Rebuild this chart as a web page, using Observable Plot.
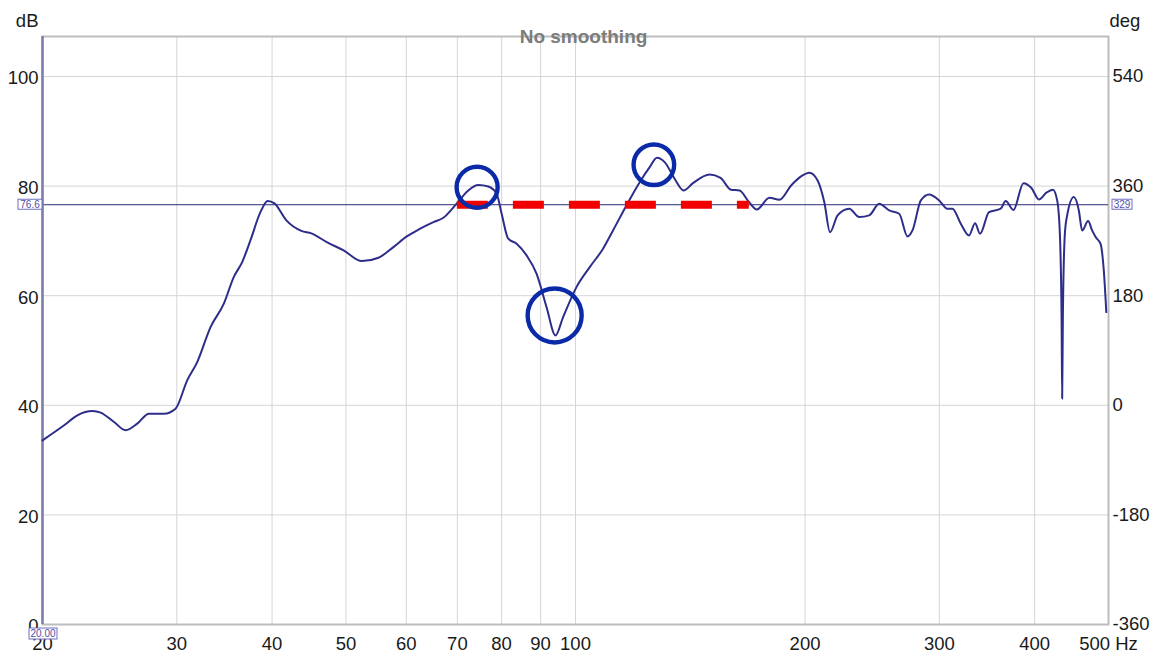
<!DOCTYPE html>
<html>
<head>
<meta charset="utf-8">
<script src="https://cdn.jsdelivr.net/npm/d3@7"></script>
<script src="https://cdn.jsdelivr.net/npm/@observablehq/plot@0.6"></script>
<style>
  html, body { margin: 0; padding: 0; background: #fff; }
</style>
</head>
<body>
<div id="chart"></div>
<script>
// ---- data ----
const freq = [20.0, 21.35, 22.22, 23.26, 23.84, 24.82, 25.71, 26.63, 27.58, 28.86, 29.89, 30.96, 31.91, 33.22, 34.58, 35.63, 36.55, 37.47, 38.62, 39.48, 40.29, 41.77, 43.70, 45.04, 47.26, 49.64, 52.47, 55.16, 57.71, 60.09, 62.55, 65.11, 67.10, 69.71, 72.35, 74.56, 76.84, 78.81, 80.01, 81.62, 83.71, 86.27, 88.90, 91.63, 94.14, 96.33, 100.29, 104.40, 108.67, 112.00, 116.62, 121.39, 125.11, 127.89, 130.90, 134.90, 138.61, 142.55, 149.91, 154.97, 159.96, 164.11, 168.63, 172.90, 179.64, 185.14, 191.78, 197.60, 202.60, 207.74, 211.98, 215.66, 220.66, 228.56, 235.56, 242.76, 250.20, 257.86, 265.76, 272.50, 276.64, 283.74, 290.92, 299.82, 307.42, 312.08, 320.08, 328.18, 334.18, 339.26, 348.58, 361.08, 366.56, 375.28, 386.76, 396.20, 405.24, 414.50, 422.70, 428.22, 431.70, 433.94, 434.72, 435.64, 438.28, 441.32, 450.32, 457.16, 461.74, 470.16, 475.86, 481.64, 488.06, 492.94, 496.68];
const db = [33.6, 36.35, 38.17, 38.96, 38.67, 36.95, 35.44, 36.66, 38.48, 38.48, 39.39, 44.56, 47.89, 54.28, 58.54, 63.40, 66.13, 70.09, 75.25, 77.29, 76.84, 73.74, 71.82, 71.37, 69.73, 68.27, 66.31, 66.93, 68.87, 70.82, 72.22, 73.43, 74.23, 76.66, 79.21, 80.21, 79.94, 78.61, 74.96, 70.40, 69.49, 67.35, 64.02, 57.92, 52.76, 56.10, 61.57, 65.22, 68.58, 71.91, 76.47, 80.72, 83.46, 85.17, 84.37, 81.34, 79.21, 80.54, 82.13, 81.49, 79.34, 79.21, 77.20, 75.74, 77.88, 77.51, 80.12, 81.76, 82.44, 81.03, 77.07, 71.60, 74.65, 75.87, 74.34, 74.65, 76.78, 75.56, 74.96, 70.82, 71.91, 77.39, 78.48, 77.39, 75.87, 75.87, 73.14, 71.00, 73.24, 71.31, 75.25, 75.87, 77.26, 75.65, 80.54, 79.66, 77.57, 78.81, 79.34, 77.39, 71.31, 56.10, 41.22, 56.10, 71.31, 74.65, 77.99, 75.56, 71.91, 73.61, 71.91, 70.58, 69.49, 64.62, 57.01];

const xTicks = [20, 30, 40, 50, 60, 70, 80, 90, 100, 200, 300, 400, 500];
const xTickLabels = ["20", "30", "40", "50", "60", "70", "80", "90", "100", "200", "300", "400", "500 Hz"];
const dbTicks = [0, 20, 40, 60, 80, 100];
const degLabels = ["-360", "-180", "0", "180", "360", "540"];

const refLevel = 76.6;
const refLevelLabel = "76.6";
const refDegLabel = "329";
const cursorFreq = 20;
const cursorLabel = "20.00";
const targetStart = 70;
const targetEnd = 169;

const circleFreq = [74.3, 93.9, 126.7];
const circleDb = [79.8, 56.4, 83.9];

const title = "No smoothing";

// ---- build ----
const curveData = freq.map((f, i) => ({f, db: db[i]}));
const xLabelMap = new Map(xTicks.map((t, i) => [t, xTickLabels[i]]));
const degMap = new Map(dbTicks.map((t, i) => [t, degLabels[i]]));

const FONT = "'Liberation Sans', Arial, Helvetica, sans-serif";

// boxed small label drawn at a data position (through scales)
function boxedLabel(label, xv, yv, {ox = 0, oy = 0, w = 24, h = 10}) {
  return (index, scales) => {
    const px = scales.x(xv) + ox;
    const py = scales.y(yv) + oy;
    const g = d3.create("svg:g");
    g.append("rect")
      .attr("x", px).attr("y", py).attr("width", w).attr("height", h)
      .attr("fill", "#fff").attr("stroke", "#6f6fc0").attr("stroke-width", 1);
    g.append("text")
      .attr("x", px + w / 2).attr("y", py + h / 2)
      .attr("dy", "0.35em")
      .attr("text-anchor", "middle")
      .attr("font-size", 10)
      .attr("font-family", FONT)
      .attr("fill", "#5050a8")
      .text(label);
    return g.node();
  };
}

const gridColor = "#d6d6d6";

const chart = Plot.plot({
  width: 1155,
  height: 652,
  marginLeft: 42,
  marginRight: 47,
  marginTop: 36,
  marginBottom: 28,
  style: {fontFamily: FONT, fontSize: "18.5px", color: "#1a1a1a", background: "#fff", overflow: "visible"},
  x: {type: "log", domain: [20, 500]},
  y: {domain: [0, 107.3]},
  marks: [
    Plot.gridX(xTicks.filter(t => t !== 20 && t !== 500), {stroke: gridColor, strokeOpacity: 1, strokeWidth: 1}),
    Plot.gridY(dbTicks.filter(t => t !== 0), {stroke: gridColor, strokeOpacity: 1, strokeWidth: 1}),
    Plot.frame({stroke: "#bdbdbd", strokeWidth: 2}),
    Plot.axisX(xTicks, {tickSize: 0, tickPadding: 12, tickFormat: d => xLabelMap.get(d), fontSize: 18.5, label: null}),
    Plot.axisY(dbTicks, {anchor: "left", tickSize: 0, tickPadding: 4, dy: 2, tickFormat: d => String(d), fontSize: 18.5, label: null}),
    Plot.axisY(dbTicks, {anchor: "right", tickSize: 0, tickPadding: 4, dy: 0, tickFormat: d => degMap.get(d), fontSize: 18.5, label: null}),
    Plot.text(["dB"], {frameAnchor: "top-left", lineAnchor: "middle", textAnchor: "end", dx: -4, dy: -15, fontSize: 18.5, fill: "#1a1a1a"}),
    Plot.text(["deg"], {frameAnchor: "top-right", lineAnchor: "middle", textAnchor: "start", dx: 1, dy: -15, fontSize: 18.5, fill: "#1a1a1a"}),
    Plot.ruleY([refLevel], {stroke: "#2a2a78", strokeWidth: 1}),
    Plot.ruleX([cursorFreq], {stroke: "#7d7db0", strokeWidth: 2.5}),
    Plot.line(curveData, {x: "f", y: "db", curve: "monotone-x", stroke: "#2e2e8a", strokeWidth: 2}),
    Plot.ruleY([refLevel], {x1: targetStart, x2: targetEnd, stroke: "#f20000", strokeWidth: 8, strokeDasharray: "31,25"}),
    Plot.dot([0], {x: circleFreq[0], y: circleDb[0], r: 20.5, stroke: "#0b2aa8", strokeWidth: 4.4, fill: "none"}),
    Plot.dot([0], {x: circleFreq[1], y: circleDb[1], r: 27, stroke: "#0b2aa8", strokeWidth: 4.4, fill: "none"}),
    Plot.dot([0], {x: circleFreq[2], y: circleDb[2], r: 20.3, stroke: "#0b2aa8", strokeWidth: 4.4, fill: "none"}),
    Plot.text([title], {frameAnchor: "top", lineAnchor: "middle", dx: 8, dy: 0, fontSize: 19, fontWeight: "bold", fill: "#7c7c7c"}),
    boxedLabel(refLevelLabel, cursorFreq, refLevel, {ox: -24, oy: -5, w: 24, h: 10}),
    boxedLabel(refDegLabel, 500, refLevel, {ox: 4, oy: -5, w: 20, h: 10}),
    boxedLabel(cursorLabel, cursorFreq, 0, {ox: -13, oy: 4, w: 28, h: 11})
  ]
});

document.getElementById("chart").appendChild(chart);
</script>
</body>
</html>
